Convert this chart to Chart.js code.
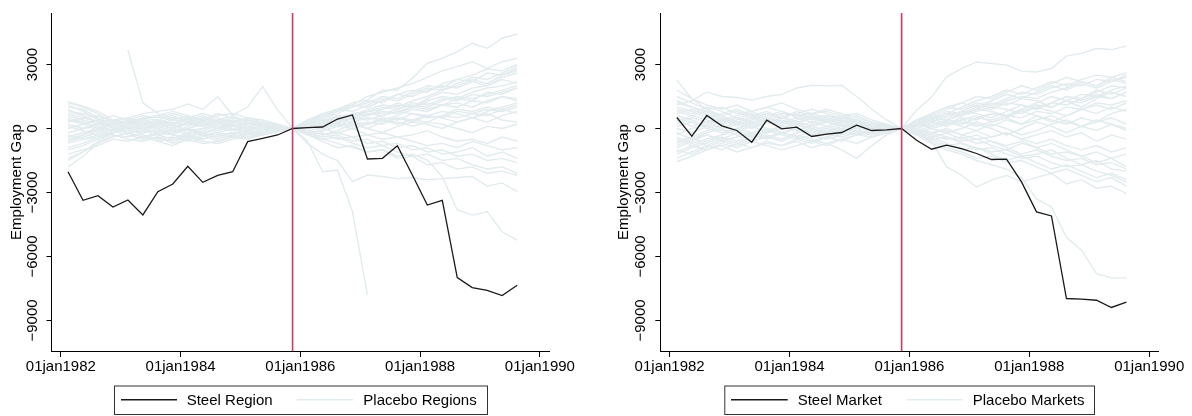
<!DOCTYPE html>
<html><head><meta charset="utf-8">
<script src="https://cdn.jsdelivr.net/npm/chart.js@4"></script>
<style>
html,body{margin:0;padding:0;background:#fff;}
#wrap{position:relative;width:1192px;height:416px;background:#fff;}
canvas{position:absolute;top:0;}
</style></head>
<body><div id="wrap"><canvas id="c1" width="596" height="416" style="left:0"></canvas><canvas id="c2" width="596" height="416" style="left:596px"></canvas></div>
<script>
const quarters = ['1982q1','1982q2','1982q3','1982q4','1983q1','1983q2','1983q3','1983q4','1984q1','1984q2','1984q3','1984q4','1985q1','1985q2','1985q3','1985q4','1986q1','1986q2','1986q3','1986q4','1987q1','1987q2','1987q3','1987q4','1988q1','1988q2','1988q3','1988q4','1989q1','1989q2','1989q3'];
const treatmentQuarter = '1985q4';
const xTickYears = [1982, 1984, 1986, 1988, 1990];
const yTickValues = [-9000, -6000, -3000, 0, 3000];
const yTitle = 'Employment Gap';
const labelsLeft = ['Steel Region', 'Placebo Regions'];
const labelsRight = ['Steel Market', 'Placebo Markets'];

const steelRegion = [-2025,-3366,-3150,-3680,-3352,-4050,-2962,-2602,-1773,-2523,-2195,-2025,-617,-461,-305,0,40,70,445,633,-1430,-1398,-805,-2180,-3586,-3366,-6990,-7460,-7585,-7835,-7350];
const steelMarket = [515,-361,609,122,-94,-642,389,-19,61,-375,-267,-188,155,-94,-66,0,-548,-970,-783,-940,-1172,-1453,-1439,-2503,-3909,-4097,-7969,-8000,-8050,-8390,-8140];

const placeboRegions = [
[null,null,null,null,3680,1200,700,500,400,450,300,350,200,150,80,0,150,300,500,700,800,900,1100,1000,1300,1500,1400,1700,1900,2000,2200],
[1260,1050,800,400,500,700,800,900,1150,900,1490,630,1020,1960,870,0,300,600,900,1200,1340,1800,1800,2350,3060,3290,3600,3990,3760,4230,4430],
[-600,-300,-100,200,100,-200,300,200,-100,0,200,100,-50,100,50,0,-600,-2030,-1950,-3900,-7800,null,null,null,null,null,null,null,null,null,null],
[800,600,300,100,-200,-400,-300,-500,-200,-300,-400,-200,-300,-100,-50,0,-200,-500,-700,-900,-1100,-1000,-1300,-1200,-1480,-2260,-3820,-4060,-3900,-4840,-5230],
[-1800,-1300,-700,-300,-500,-600,-400,-700,-500,-300,-600,-400,-300,-200,-100,0,-700,-1200,-1500,-2490,-2180,-2250,-2350,-2300,-2400,-2350,-2300,-2250,-2700,-2550,-2960],
[400,300,100,200,300,500,600,400,300,500,400,300,200,150,50,0,400,700,900,1100,1500,1700,1900,2100,2400,2700,2900,3130,2820,3130,3290],
[1000,900,500,0,-200,100,300,500,400,600,300,500,300,200,100,0,200,400,300,600,800,700,900,1100,1000,1300,1500,1400,1600,1800,2000],
[-1500,-1100,-600,-200,0,-300,-500,-400,-600,-500,-300,-400,-200,-300,-100,0,-300,-200,-500,-400,-700,-600,-900,-800,-1100,-1000,-1300,-1200,-1500,-1400,-1600],
[600,400,200,100,300,200,0,-200,100,300,100,-100,100,0,50,0,100,300,200,500,400,600,800,700,500,600,900,800,1000,900,1100],
[-900,-700,-400,-100,200,400,300,100,-100,-200,0,200,100,-100,0,0,-100,-300,-100,200,0,-200,100,300,200,0,300,500,300,600,800],
[300,500,600,300,0,-300,-600,-800,-500,-700,-600,-400,-500,-300,-150,0,300,500,800,1000,1300,1200,1600,1800,1700,2100,2300,2200,2600,2500,2800],
[-400,-200,0,200,400,600,500,700,500,300,400,600,300,200,100,0,-200,-400,-300,-600,-500,-800,-700,-1000,-900,-1200,-1100,-900,-1300,-1100,-1400],
[1200,1000,700,300,100,0,200,400,600,400,700,500,400,300,100,0,100,200,500,700,600,900,1200,1000,1400,1700,1600,1900,2000,2400,2600],
[-1200,-1000,-800,-500,-600,-400,-200,-300,0,-200,-100,100,0,-100,0,0,200,100,400,300,200,500,400,700,600,500,800,700,600,900,700],
[100,-100,-300,-200,200,500,400,600,300,100,300,100,200,300,150,0,-300,-600,-900,-800,-1100,-1000,-1400,-1300,-1700,-1600,-1900,-1800,-2100,-2000,-2200],
[800,700,500,200,300,0,-200,0,200,100,300,400,200,100,0,0,300,200,400,600,900,1100,1000,1300,1500,1800,2000,2300,2100,2500,2700],
[-700,-500,-300,0,-200,-100,100,300,200,400,200,300,400,200,100,0,0,200,100,300,500,400,200,400,600,500,300,500,700,400,300],
[400,200,-100,-300,-400,-200,-100,-300,-400,-200,-500,-300,-100,-200,-100,0,100,300,600,500,800,1000,900,1200,1100,1400,1300,1600,1500,1700,1900],
[-300,-500,-400,-200,100,300,200,0,300,500,300,200,0,100,0,0,-100,0,-200,-400,-300,-500,-400,-600,-800,-700,-900,-600,-800,-1000,-900],
[1100,800,400,100,-100,200,400,200,500,700,500,300,500,400,200,0,400,600,900,800,1100,1400,1300,1600,1900,1800,2100,2400,2300,2600,2900],
[-1000,-800,-500,-200,0,200,0,-300,-500,-400,-200,-300,-400,-200,-50,0,-200,-100,100,0,200,400,300,100,300,200,0,-200,100,0,200],
[500,300,0,-100,100,0,-200,-100,-300,-100,100,0,-200,-100,0,0,200,400,600,500,700,600,800,1000,900,1100,1200,1000,1300,1500,1400],
[-600,-400,-200,100,300,100,-100,100,300,200,0,-100,100,0,0,0,-300,-500,-400,-700,-900,-800,-1100,-1300,-1200,-1500,-1400,-1700,-1900,-1800,-2100],
[200,0,200,400,200,400,600,800,600,400,600,700,500,300,100,0,100,300,500,400,600,800,700,1000,1200,1100,1400,1300,1200,1500,1300],
[-200,0,100,-100,-300,-500,-400,-600,-400,-600,-700,-500,-400,-300,-100,0,100,0,200,100,300,200,500,400,300,600,500,700,900,800,1000],
[900,600,300,0,200,400,200,0,-200,0,200,100,300,200,50,0,200,500,700,1000,1200,1500,1400,1700,2000,1900,2300,2500,2800,2700,3000],
[-1400,-1100,-700,-400,-200,-400,-600,-500,-300,-500,-300,-200,-100,-200,-100,0,-100,-300,-200,0,-300,-200,-400,-300,-100,-400,-600,-500,-700,-400,-600],
[0,200,400,600,400,200,0,200,400,200,0,200,100,0,0,0,100,0,300,200,0,300,500,300,600,800,700,500,800,1000,1200],
[700,500,300,400,200,-100,-300,-200,0,200,400,300,200,100,50,0,-200,-100,100,300,200,400,600,900,800,1100,1000,1300,1700,1600,1900],
[-500,-300,0,300,500,300,100,-100,0,-300,-200,0,-100,0,0,0,300,600,800,1100,1000,1300,1600,1500,1800,2000,1900,2200,2000,2300,2100]
];

const placeboMarkets = [
[1100,1300,1716,1500,1450,1330,1500,1600,1900,2030,2000,2030,1500,900,400,0,860,1480,2420,2810,3120,3050,2970,2690,2650,2810,3390,3520,3750,3700,3860],
[-1560,-1300,-1000,-800,-1100,-900,-700,-800,-600,-900,-700,-1000,-1400,-800,-300,0,-300,-700,-1000,-1200,-1500,-1700,-1900,-2300,-3300,-3680,-5100,-5700,-6800,-7000,-7000],
[2260,1400,900,600,800,500,300,400,200,500,300,100,200,100,50,0,-200,-600,-1800,-2190,-2740,-2420,-2200,-2500,-2300,-2100,-2600,-2400,-2800,-2700,-3050],
[900,700,1000,800,500,700,400,600,300,500,600,400,300,200,100,0,300,600,500,800,1100,1000,1300,1500,1400,1700,1900,2200,2000,2400,2600],
[-800,-500,-200,0,-300,-600,-400,-200,0,-300,-500,-300,-100,-200,-100,0,-200,-500,-800,-700,-1000,-900,-1200,-1400,-1300,-1600,-1800,-1700,-2000,-2200,-2500],
[400,100,300,500,200,0,300,100,-100,200,400,200,0,100,0,0,200,400,700,600,900,1200,1100,1400,1300,1000,1300,1600,1500,1800,2000],
[-1200,-900,-700,-400,-600,-300,-500,-200,-400,-600,-400,-200,-300,-100,-50,0,100,300,200,500,400,700,600,900,1100,1000,1300,1200,1500,1400,1700],
[1500,1200,900,1000,700,800,500,700,600,400,600,500,400,200,100,0,-100,-300,-500,-400,-700,-600,-900,-1200,-1000,-1300,-1500,-1400,-1700,-1600,-1900],
[0,-200,100,-100,200,400,600,800,600,700,500,300,400,200,100,0,200,100,300,200,500,400,600,500,800,700,1000,900,1200,1100,1300],
[-400,-700,-500,-300,-100,100,-100,-300,-500,-300,-100,0,-200,-100,0,0,-100,-200,0,-300,-100,-400,-200,-500,-300,-100,-400,-200,-600,-300,-500],
[700,900,600,300,500,200,400,300,500,300,100,300,200,0,50,0,400,700,1000,900,1200,1100,1400,1700,1600,1900,2100,2000,2300,2200,2500],
[-1000,-1200,-900,-600,-800,-500,-300,-500,-200,0,-200,-400,-200,-300,-100,0,0,200,400,300,100,300,500,200,400,600,300,100,400,200,0],
[1000,800,500,700,900,600,800,500,700,900,700,500,600,300,150,0,200,500,400,700,900,800,600,900,1200,1500,1300,1000,1400,1700,1500],
[-600,-400,-800,-500,-200,-400,-100,100,-100,-300,-200,0,-100,-200,-100,0,-300,-500,-400,-700,-900,-1100,-1000,-1300,-1200,-1000,-1400,-1700,-1500,-1900,-2000],
[200,500,300,0,300,100,-200,0,200,0,-300,-100,100,0,0,0,300,500,400,600,800,1000,900,700,1000,1200,1100,1400,1800,1600,1900],
[-300,0,200,400,100,300,500,300,100,300,500,300,100,200,50,0,-100,100,300,100,-100,200,0,-300,-100,200,400,100,300,500,200],
[1200,1000,700,400,600,800,1000,800,500,700,800,600,700,400,200,0,100,400,700,1000,1300,1500,1800,1600,1900,2200,2000,2300,2500,2400,2200],
[-1400,-1100,-800,-1000,-700,-900,-600,-800,-500,-700,-400,-600,-300,-200,-100,0,-300,-200,-400,-600,-500,-800,-1000,-700,-900,-1200,-1100,-1300,-1600,-1400,-1800],
[500,300,0,200,-100,-300,-100,100,300,100,-100,100,300,100,50,0,100,300,600,800,700,500,800,1100,900,1200,1500,1300,1600,1400,1700],
[-200,-500,-300,-600,-400,-200,0,-200,-400,-100,100,-100,-300,-100,0,0,200,0,-200,0,300,100,400,200,600,400,200,500,300,700,900],
[800,600,400,200,400,600,300,500,800,600,400,600,400,200,100,0,-200,-400,-200,-500,-300,-600,-800,-600,-900,-700,-1000,-1300,-1100,-1400,-1200],
[-900,-600,-300,-500,-700,-400,-200,0,200,0,-200,0,200,0,0,0,400,600,900,1200,1000,1300,1600,1400,1700,2000,1800,2100,1900,2200,2400],
[300,600,800,500,300,500,700,500,300,100,300,500,300,100,50,0,0,-200,-100,-300,-500,-400,-200,-500,-700,-500,-800,-1000,-800,-1100,-900],
[-500,-800,-600,-300,0,-200,-400,-600,-300,-500,-700,-500,-300,-400,-200,0,200,400,300,200,500,700,600,800,1000,800,600,900,1100,900,1200],
[1800,1400,1100,900,1100,800,1000,1200,900,700,900,700,500,300,100,0,300,700,1000,1200,1500,1400,1700,2000,1800,2100,2400,2200,2000,2300,2100],
[-1100,-800,-1000,-700,-900,-600,-800,-1000,-800,-600,-800,-500,-700,-400,-200,0,-100,-400,-700,-1000,-900,-1200,-1500,-1300,-1600,-1900,-1700,-2000,-2300,-2100,-2400],
[100,300,0,-200,0,200,400,200,400,600,400,200,0,-100,0,0,100,300,100,400,600,300,500,800,600,300,600,900,700,1000,800],
[600,400,100,300,500,300,0,-200,0,-200,0,200,0,100,50,0,-200,0,200,400,200,0,-300,0,300,100,-200,100,-100,200,-100],
[-700,-400,-100,100,-100,100,300,100,-100,100,300,100,-100,-300,-100,0,300,500,800,700,1000,900,1200,1100,900,1200,1500,1400,1700,2000,1900],
[1300,1000,800,600,300,500,300,500,700,500,300,400,200,100,0,0,-300,-600,-900,-1100,-1400,-1300,-1600,-1500,-1800,-2100,-1900,-2200,-2500,-2300,-2700]
];

const FONT_FAMILY = '"Liberation Sans", Arial, Helvetica, sans-serif';
const FONT_SIZE = 15;
const PLACEBO_COLOR = '#e2ebed';
const STEEL_COLOR = '#1a1a1a';
const TREAT_COLOR = '#d23a62';

function quarterToX(q) {
  const parts = q.split('q');
  return Number(parts[0]) + (Number(parts[1]) - 1) * 0.25 + 0.12;
}
const xs = quarters.map(quarterToX);
function toPoints(vals) { return vals.map((v, i) => ({ x: xs[i], y: v })); }
function fmt(v) { return v < 0 ? '\u2212' + Math.abs(v) : String(v); }

function buildChart(canvasId, steel, placebos, labels, p) {
  const datasets = [{
    label: labels[0], data: toPoints(steel), borderColor: STEEL_COLOR, borderWidth: 1.3,
    pointRadius: 0, tension: 0, fill: false
  }];
  placebos.forEach((vals, i) => datasets.push({
    label: labels[1] + ' ' + (i + 1), data: toPoints(vals), borderColor: PLACEBO_COLOR, borderWidth: 1.4,
    pointRadius: 0, tension: 0, fill: false
  }));
  const overlay = {
    id: 'overlay',
    afterDatasetsDraw(chart) {
      const { ctx, chartArea, scales } = chart;
      const px = scales.x.getPixelForValue(quarterToX(treatmentQuarter));
      ctx.save();
      ctx.strokeStyle = TREAT_COLOR; ctx.lineWidth = 1.6;
      ctx.beginPath(); ctx.moveTo(px, chartArea.top); ctx.lineTo(px, chartArea.bottom); ctx.stroke();
      ctx.restore();
    },
    afterDraw(chart) {
      const { ctx, chartArea, scales } = chart;
      ctx.save();
      ctx.fillStyle = '#000';
      ctx.font = FONT_SIZE + 'px ' + FONT_FAMILY;
      ctx.textAlign = 'center'; ctx.textBaseline = 'middle';
      yTickValues.forEach(v => {
        const py = scales.y.getPixelForValue(v);
        ctx.save(); ctx.translate(p.tickLabelX, py); ctx.rotate(-Math.PI / 2);
        ctx.fillText(fmt(v), 0, 0); ctx.restore();
      });
      ctx.save(); ctx.translate(p.titleX, (chartArea.top + chartArea.bottom) / 2); ctx.rotate(-Math.PI / 2);
      ctx.fillText(yTitle, 0, 0); ctx.restore();
      // legend
      const L = p.legend;
      ctx.strokeStyle = '#333'; ctx.lineWidth = 1;
      ctx.strokeRect(L.x1 + 0.5, L.y1 + 0.5, L.x2 - L.x1, L.y2 - L.y1);
      const cy = (L.y1 + L.y2) / 2;
      ctx.lineWidth = 1.3; ctx.strokeStyle = STEEL_COLOR;
      ctx.beginPath(); ctx.moveTo(L.s1a, cy); ctx.lineTo(L.s1b, cy); ctx.stroke();
      ctx.lineWidth = 1.4; ctx.strokeStyle = PLACEBO_COLOR;
      ctx.beginPath(); ctx.moveTo(L.s2a, cy); ctx.lineTo(L.s2b, cy); ctx.stroke();
      ctx.textAlign = 'left';
      ctx.fillText(labels[0], L.t1, cy + 1);
      ctx.fillText(labels[1], L.t2, cy + 1);
      ctx.restore();
    }
  };
  return new Chart(document.getElementById(canvasId), {
    type: 'line',
    data: { datasets },
    plugins: [overlay],
    options: {
      responsive: false, animation: false, devicePixelRatio: 1,
      events: [],
      layout: { padding: { left: 0, right: p.padRight, top: 13, bottom: 0 } },
      plugins: { legend: { display: false }, tooltip: { enabled: false } },
      elements: { line: { spanGaps: false } },
      scales: {
        x: {
          type: 'linear', min: 1981.844, max: 1990.152,
          afterBuildTicks: s => { s.ticks = xTickYears.map(v => ({ value: v })); },
          afterFit: s => { s.height = 65; },
          ticks: {
            autoSkip: false, maxRotation: 0, minRotation: 0, padding: 1, color: '#000',
            font: { family: FONT_FAMILY, size: FONT_SIZE },
            callback: v => '01jan' + v
          },
          grid: { display: true, drawOnChartArea: false, drawTicks: true, tickLength: 6, color: '#000', lineWidth: 1 },
          border: { display: true, color: '#000', width: 1 }
        },
        y: {
          type: 'linear', min: -10430, max: 5414,
          afterBuildTicks: s => { s.ticks = yTickValues.map(v => ({ value: v })); },
          afterFit: s => { s.width = p.yWidth; },
          ticks: { display: false },
          grid: { display: true, drawOnChartArea: false, drawTicks: true, tickLength: 5, color: '#000', lineWidth: 1 },
          border: { display: true, color: '#000', width: 1 }
        }
      }
    }
  });
}

buildChart('c1', steelRegion, placeboRegions, labelsLeft, {
  yWidth: 51.5, padRight: 47, tickLabelX: 33, titleX: 16.7,
  legend: { x1: 114, y1: 385.5, x2: 487, y2: 414, s1a: 121, s1b: 177, t1: 186.7, s2a: 296.7, s2b: 353, t2: 363.3 }
});
buildChart('c2', steelMarket, placeboMarkets, labelsRight, {
  yWidth: 64.3, padRight: 33.7, tickLabelX: 44.7, titleX: 27.5,
  legend: { x1: 128.3, y1: 385.5, x2: 498, y2: 414, s1a: 135, s1b: 191.7, t1: 201.7, s2a: 310.7, s2b: 366.7, t2: 376.7 }
});
</script>
</body></html>
